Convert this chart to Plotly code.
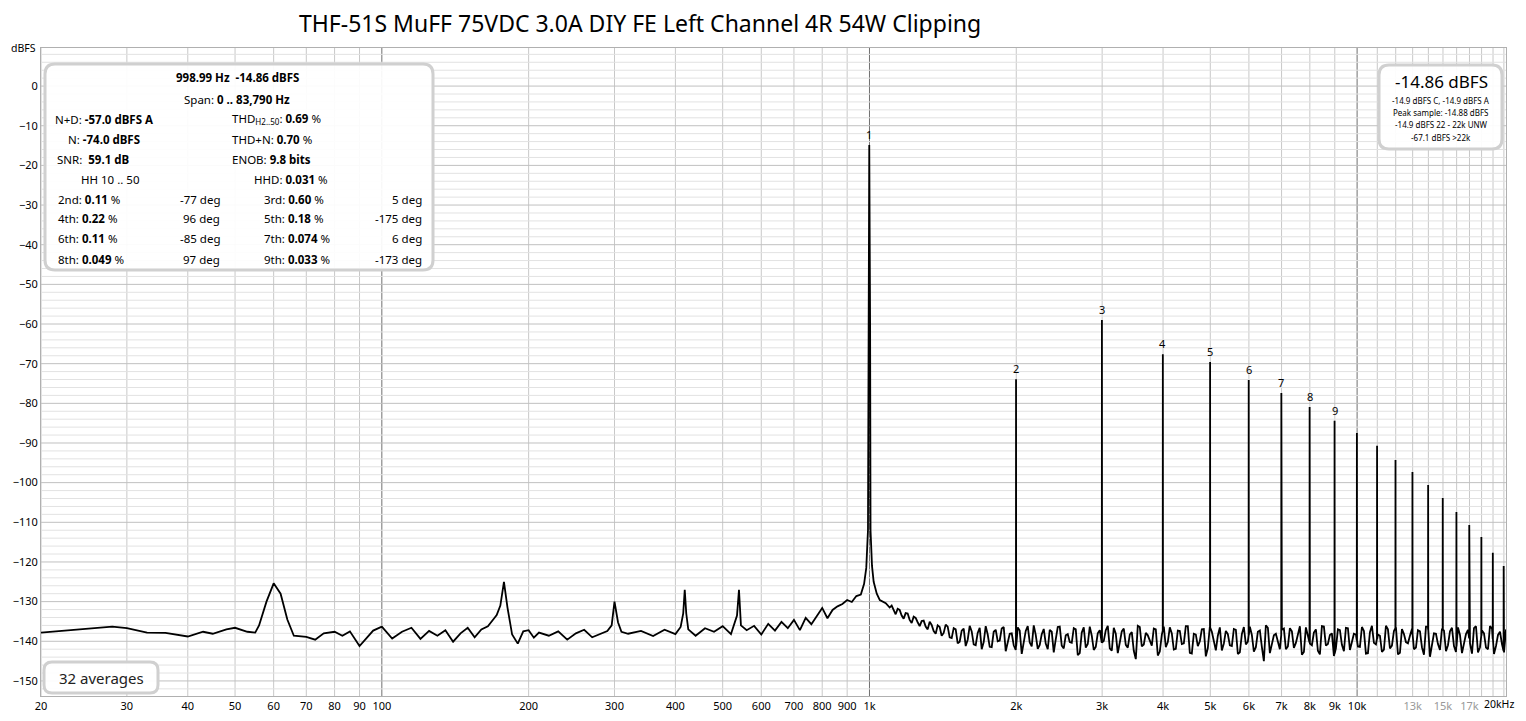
import numpy as np
import plotly.graph_objects as go

title = "THF-51S MuFF 75VDC 3.0A DIY FE Left Channel 4R 54W Clipping"

low_freq = [20,22,25,28,30,33,36,40,43,45,48,50,53,55,56,58,60,62,64,66,70,73,76,80,83,86,90,93,96,100,
            105,110,115,120,125,130,135,140,145,150,155,160,165,170,172,175,178,181,185,190,195,200,205,210,
            220,230,240,250,260,270,280,290,296,300,305,310,320,340,360,380,400,410,415,418,421,425,440,460,480,
            500,520,535,540,545,560,580,600,620,640,660,680,700,720,740,760,780,800,820,840,860,880,900,920,
            940,960,975,985,993,1005,1012,1020,1035,1050,1080,1100]
low_db = [-137.8,-137.4,-136.7,-136.3,-136.7,-137.8,-137.9,-138.8,-137.6,-138.1,-137.0,-136.6,-137.6,-137.8,-136,-130,-125.4,-128,-134.5,-138.6,-138.9,-139.6,-138.0,-137.6,-138.6,-137.5,-141.2,-139.2,-137.3,-136.3,
          -139.3,-137.6,-136.6,-139.4,-137.4,-138.6,-137.2,-140.1,-138.0,-136.6,-139.0,-137.0,-136.2,-134.2,-133.4,-131.0,-125.0,-131.5,-138.3,-140.6,-137.5,-137.2,-139.1,-137.8,
          -138.6,-137.5,-139.6,-138.0,-137.1,-139.0,-138.1,-137.4,-136.0,-130.0,-135.2,-137.6,-138.1,-137.4,-138.7,-137.1,-138.2,-136.4,-133.0,-127.0,-133.0,-137.0,-138.6,-136.7,-137.6,
          -136.2,-138.2,-133.5,-127.0,-136.0,-137.2,-136.1,-138.3,-135.6,-137.3,-135.1,-136.7,-134.6,-137.2,-134.1,-135.7,-133.6,-131.6,-134.2,-132.1,-131.2,-130.6,-129.6,-130.1,
          -128.6,-128.2,-125.5,-121.5,-112.0,-112.0,-121.0,-125.0,-128.0,-129.6,-130.4,-131.5]

high_db_a = [-131.0,-133.2,-132.1,-134.3,-133.0,-135.4,-134.1,-136.2,-134.8,-137.0,-135.9,-138.1,-136.4,-137.9,-136.3,-139.2,-137.0,-140.1,
           -136.8,-139.6,-137.5,-141.0,-136.6,-140.2,-138.3,-141.5,-137.1,-139.8,-136.4,-140.6,-138.0,-142.2,-137.3,-140.0,-136.2,-141.3,
           -138.4,-140.9,-136.9,-142.0,-137.6,-139.5,-136.3,-141.8,-138.2,-140.4,-137.0,-143.0,-136.5,-140.7,-138.6,-141.4,-137.2,-139.9,
           -136.1,-142.4,-138.1,-140.3,-136.8,-141.6,-137.7,-144.5,-136.4,-140.8,-138.5,-141.1,-137.0,-142.6,-136.3,-140.2,-138.0,-141.9,
           -137.4,-140.5,-136.2,-143.1,-138.3,-140.0,-136.9,-141.7,-137.6,-142.3,-136.5,-140.6,-138.2,-141.2,-137.1,-142.8,-136.4,-140.1,
           -138.4,-141.5,-137.3,-145.0,-136.6,-140.9,-138.1,-142.0,-136.8,-141.3,-137.5,-140.4,-136.2,-142.7,-138.5,-141.0,-137.0,-143.3,
           -136.3,-140.7,-138.0,-141.8,-137.2,-142.5,-136.7,-140.2,-138.3,-141.4,-137.4,-143.0,-136.1,-140.8,-138.6,-142.1,-137.0,-141.1,
           -136.5,-142.9,-138.2,-140.5,-136.9,-141.6,-137.5,-143.4,-136.3,-140.9,-138.1,-142.2,-137.3,-141.0,-136.6,-142.7,-138.4,-140.6,
           -137.1,-143.1,-136.2,-141.5,-138.0,-142.0,-136.8,-141.2,-137.6,-142.8,-136.4,-140.7]
high_db_b = [-132.0,-131.8,-133.5,-132.9,-134.6,-133.8,-135.2,-134.9,-136.3,-135.1,-137.4,-136.0,-138.6,-135.8,-139.0,-136.7,-140.5,-137.3,
           -141.2,-136.1,-140.8,-137.9,-142.0,-136.2,-141.4,-137.6,-140.0,-136.8,-142.5,-138.1,-141.0,-136.5,-143.2,-137.4,-140.3,-136.0,
           -141.9,-138.2,-140.6,-137.1,-142.8,-136.4,-141.1,-138.5,-140.2,-136.7,-143.5,-137.8,-141.6,-136.3,-142.2,-138.0,-140.4,-137.2,
           -141.8,-136.6,-143.0,-137.5,-140.9,-138.3,-142.4,-136.1,-141.3,-137.9,-140.1,-136.8,-143.6,-138.4,-141.5,-136.5,-142.1,-137.3,
           -140.7,-136.2,-142.9,-138.1,-141.2,-137.0,-143.8,-136.4,-140.5,-138.6,-142.3,-137.4,-141.0,-136.9,-143.2,-138.2,-140.8,-136.3,
           -142.6,-137.6,-141.4,-136.0,-143.0,-138.5,-140.3,-137.1,-142.0,-136.7,-141.7,-138.0,-143.4,-136.5,-140.6,-137.8,-142.4,-136.2,
           -141.1,-138.4,-143.7,-137.0,-140.9,-136.6,-142.2,-138.1,-141.3,-136.4,-143.1,-137.7,-140.4,-138.3,-142.7,-136.1,-141.8,-137.4,
           -143.3,-136.9,-140.2,-138.6,-142.0,-137.2,-141.5,-136.3,-143.9,-138.0,-140.7,-136.8,-142.5,-137.5,-141.2,-136.5,-143.0,-138.2,
           -140.5,-136.7,-142.8,-137.3,-141.6,-136.2,-143.2,-138.4,-140.8,-137.0]

harm_order = list(range(1, 21))
harm_db = [-14.86,-73.9,-59.0,-67.6,-69.6,-74.1,-77.4,-80.9,-84.4,-87.5,-90.7,-94.3,-97.3,-100.6,-103.9,-107.4,-110.7,-113.7,-117.7,-121.0]
fund_hz = 998.99

x_ticks = [20,30,40,50,60,70,80,90,100,200,300,400,500,600,700,800,900,1000,2000,3000,4000,5000,6000,7000,8000,9000,10000,13000,15000,17000,20000]
x_labels = ["20","30","40","50","60","70","80","90","100","200","300","400","500","600","700","800","900","1k","2k","3k","4k","5k","6k","7k","8k","9k","10k","13k","15k","17k","20kHz"]
x_minor = [11000,12000,14000,16000,18000,19000]
y_ticks = list(range(0, -151, -10))

# ---- build spectrum ----
high_db = [v for pair in zip(high_db_a, high_db_b) for v in pair]
high_freq = np.geomspace(1100, 20200, len(high_db) + 1)[1:]
f = list(low_freq) + list(high_freq)
d = list(low_db) + list(high_db)
pts = sorted(zip(f, d))
f = [p[0] for p in pts]; d = [p[1] for p in pts]
for n, pk in zip(harm_order, harm_db):
    fh = fund_hz * n
    if fh > 20200:
        continue
    if n == 1:
        seg = [(fh * 0.996, -60), (fh, pk), (fh * 1.004, -60)]
    else:
        base = float(np.interp(np.log10(fh), np.log10(f), d))
        seg = [(fh * 0.9995, base), (fh, pk), (fh * 1.0005, base)]
    pts = sorted(list(zip(f, d)) + seg)
    f = [p[0] for p in pts]; d = [p[1] for p in pts]

# page has an 8px body margin; work in screenshot pixels and convert
OFF = 8
W, H = 1510, 705
PL, PR, PT, PB = 41, 1506, 48, 696   # plot area in screenshot pixels
L, T = PL - OFF, PT - OFF
R = W - (PR - OFF)
B = H - (PB - OFF)
x0, x1 = np.log10(20), np.log10(20200)
y0, y1 = -153.8, 9.6

def px(x): return (x - PL) / (PR - PL)
def py(y): return 1 - (y - PT) / (PB - PT)

fig = go.Figure()
fig.add_trace(go.Scatter(x=f, y=d, mode="lines", line=dict(color="black", width=1.8), hoverinfo="skip"))

shapes = []
for v in x_ticks + x_minor:
    dark = v in (100, 1000, 10000)
    shapes.append(dict(type="line", xref="x", yref="paper", x0=v, x1=v, y0=0, y1=1, layer="below",
                       line=dict(color="#707070" if dark else "#c8c8c8", width=1)))
for yv in range(8, -154, -2):
    shapes.append(dict(type="line", xref="paper", yref="y", x0=0, x1=1, y0=yv, y1=yv, layer="below",
                       line=dict(color="#c0c0c0" if yv % 10 == 0 else "#e2e2e2", width=1)))

def rbox(xa, ya, xb, yb, r=10):
    rx = r / (PR - PL); ry = r / (PB - PT)
    a, b, c, e = px(xa), px(xb), py(ya), py(yb)
    p = (f"M {a+rx},{c} L {b-rx},{c} Q {b},{c} {b},{c-ry} L {b},{e+ry} Q {b},{e} {b-rx},{e} "
         f"L {a+rx},{e} Q {a},{e} {a},{e+ry} L {a},{c-ry} Q {a},{c} {a+rx},{c} Z")
    return dict(type="path", xref="paper", yref="paper", path=p, fillcolor="rgba(255,255,255,0.93)",
                line=dict(color="#d0d0d0", width=3), layer="above")

shapes += [rbox(45, 64, 433, 270), rbox(1379, 65, 1502, 149), rbox(44, 662, 158, 693, 8)]

ann = []
FONT = "Noto Sans"
def t(x, y, s, size=11.5, anchor="left", color="black"):
    ann.append(dict(xref="paper", yref="paper", x=px(x), y=py(y), text=s, showarrow=False,
                    xanchor=anchor, yanchor="middle", font=dict(family=FONT, size=size, color=color)))

t(237, 78, "<b>998.99 Hz  -14.86 dBFS</b>", anchor="center")
t(237, 99, "Span: <b>0 .. 83,790 Hz</b>", anchor="center")
rows = [("N+D: <b>-57.0 dBFS A</b>", "THD<sub>H2..50</sub>: <b>0.69</b> %", 53, 230),
        ("N: <b>-74.0 dBFS</b>", "THD+N: <b>0.70</b> %", 66, 230),
        ("SNR:  <b>59.1 dB</b>", "ENOB: <b>9.8 bits</b>", 55, 230),
        ("HH 10 .. 50", "HHD: <b>0.031</b> %", 79, 252)]
for i, (a, b_, xa, xb) in enumerate(rows):
    yy = 119 + 20 * i
    t(xa, yy, a); t(xb, yy, b_)
hrows = [("2nd: <b>0.11</b> %", "-77 deg", "3rd: <b>0.60</b> %", "5 deg"),
         ("4th: <b>0.22</b> %", "96 deg", "5th: <b>0.18</b> %", "-175 deg"),
         ("6th: <b>0.11</b> %", "-85 deg", "7th: <b>0.074</b> %", "6 deg"),
         ("8th: <b>0.049</b> %", "97 deg", "9th: <b>0.033</b> %", "-173 deg")]
for i, (a, b_, c, e) in enumerate(hrows):
    yy = 199 + 20 * i
    t(56, yy, a); t(222, yy, b_, anchor="right"); t(262, yy, c); t(424, yy, e, anchor="right")

t(1441, 81, "-14.86 dBFS", size=17, anchor="center")
for i, s in enumerate(["-14.9 dBFS C, -14.9 dBFS A", "Peak sample: -14.88 dBFS", "-14.9 dBFS 22 - 22k UNW", "-67.1 dBFS >22k"]):
    t(1441, 100 + 12.5 * i, s, size=8, anchor="center")
t(101, 678, "32 averages", size=15, anchor="center", color="#222")
t(38, 48, "dBFS", size=10.5, anchor="right")
t(640, 23, title, size=23, anchor="center")
# last tick label (plotly would clip it at the edge)
t(1516, 704, x_labels[-1], size=10.5, anchor="right")

for n, pk in zip(harm_order[:9], harm_db[:9]):
    ann.append(dict(xref="x", yref="y", x=np.log10(fund_hz * n), y=pk, text=str(n), showarrow=False,
                    yanchor="bottom", yshift=1, font=dict(family=FONT, size=11, color="black")))

tick_text = [f'<span style="color:#999">{s}</span>' if s in ("13k", "15k", "17k") else s for s in x_labels[:-1]]

fig.update_layout(
    width=W, height=H, margin=dict(l=L, r=R, t=T, b=B, autoexpand=False), plot_bgcolor="white", paper_bgcolor="white",
    showlegend=False, shapes=shapes, annotations=ann,
    xaxis=dict(type="log", range=[x0, x1], tickvals=x_ticks[:-1], ticktext=tick_text, showgrid=False, zeroline=False,
               automargin=False, ticks="", tickfont=dict(family=FONT, size=11, color="black"), showline=True, linecolor="#b0b0b0", mirror=True),
    yaxis=dict(range=[y0, y1], tickvals=y_ticks, showgrid=False, zeroline=False, ticks="", automargin=False,
               tickfont=dict(family=FONT, size=11, color="black"), showline=True, linecolor="#b0b0b0", mirror=True),
)
fig.write_html("out.html")
